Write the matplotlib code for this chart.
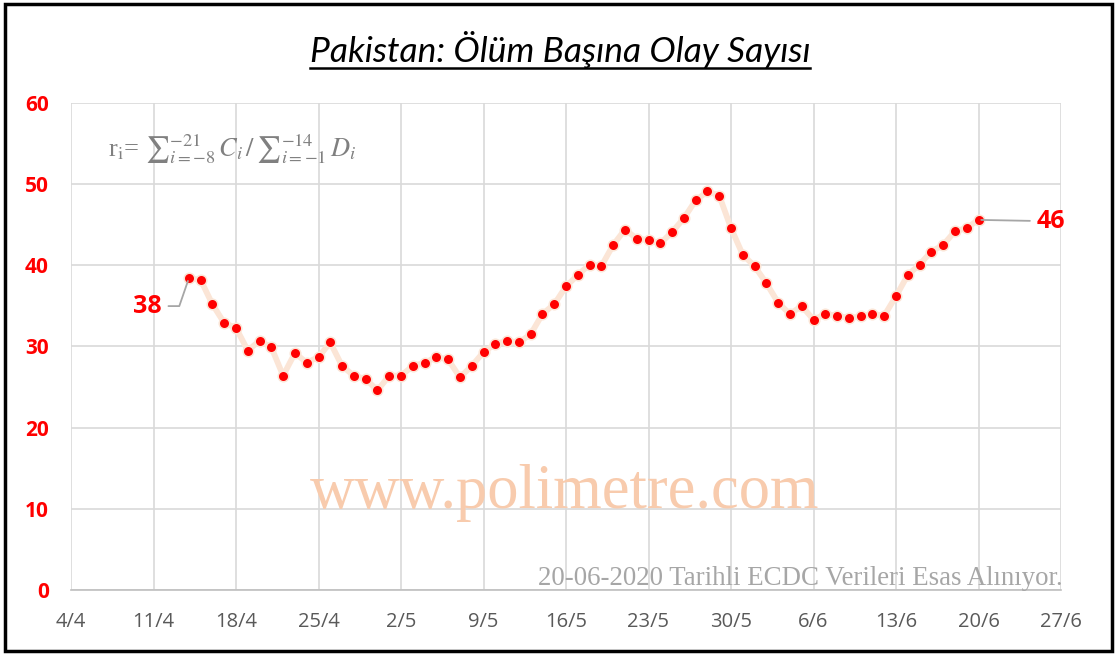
import numpy as np
import matplotlib
matplotlib.use("Agg")
import matplotlib.pyplot as plt
import matplotlib.dates as mdates
from matplotlib.patches import Rectangle

# ---- data ----
start_date = "2020-04-14"
values = [38.4, 38.2, 35.2, 32.9, 32.3, 29.5, 30.7, 29.9, 26.4, 29.2,
          28.0, 28.7, 30.5, 27.6, 26.4, 26.0, 24.6, 26.4, 26.4, 27.6,
          28.0, 28.7, 28.4, 26.2, 27.6, 29.3, 30.3, 30.7, 30.5, 31.5,
          34.0, 35.2, 37.4, 38.8, 40.1, 39.9, 42.5, 44.4, 43.3, 43.1,
          42.7, 44.1, 45.8, 48.0, 49.1, 48.6, 44.6, 41.3, 39.9, 37.8,
          35.4, 34.0, 35.0, 33.3, 34.0, 33.8, 33.5, 33.7, 34.0, 33.8,
          36.2, 38.8, 40.1, 41.7, 42.5, 44.2, 44.6, 45.6]
dates = np.datetime64(start_date) + np.arange(len(values)).astype("timedelta64[D]")
x_start, x_end = np.datetime64("2020-04-04"), np.datetime64("2020-06-27")
y_ticks = [0, 10, 20, 30, 40, 50, 60]
first_label, last_label = "38", "46"
title = "Pakistan: Ölüm Başına Olay Sayısı"
watermark = "www.polimetre.com"
source_note = "20-06-2020 Tarihli ECDC Verileri Esas Alınıyor."
formula = r"r$_\mathrm{i}$= $∑_{i=-8}^{-21}\,C_i\,/\,∑_{i=-1}^{-14}\,D_i$"

W, H = 1116, 654
fig = plt.figure(figsize=(W / 100, H / 100), dpi=100)
fig.patch.set_facecolor("white")
ax = fig.add_axes([71 / W, 1 - 590 / H, (1061 - 71) / W, (590 - 103) / H])

ax.plot(dates, values, color="#FBE5D6", lw=4.2, zorder=2,
        marker="o", markersize=7.6, markerfacecolor="#FF0000",
        markeredgecolor="#FBE5D6", markeredgewidth=1.1)

ax.set_xlim(x_start, x_end)
ax.set_ylim(0, 60)
ax.set_xticks(np.arange(x_start, x_end + np.timedelta64(1, "D"), np.timedelta64(7, "D")))
ax.xaxis.set_major_formatter(mdates.DateFormatter("%-d/%-m"))
ax.set_yticks(y_ticks)
ax.grid(True, color="#D9D9D9", lw=1.2)
ax.set_axisbelow(True)
for s in ["top", "right", "left"]:
    ax.spines[s].set_visible(False)
ax.spines["bottom"].set_color("#BFBFBF")
ax.spines["bottom"].set_linewidth(1.2)
ax.tick_params(axis="both", length=0)
ax.tick_params(axis="x", pad=16, labelsize=14.5, labelcolor="#595959")
ax.tick_params(axis="y", pad=16, labelsize=15, labelcolor="#FF0000")
for lab in ax.get_xticklabels():
    lab.set_fontfamily("Open Sans")
for lab in ax.get_yticklabels():
    lab.set_fontfamily("Open Sans")
    lab.set_fontweight("bold")

# annotations
ax.annotate(first_label, xy=(dates[0], values[0]), xytext=(-30, -20),
            textcoords="offset points", ha="center", va="center",
            fontsize=18, fontweight="bold", color="#FF0000", family="Open Sans",
            arrowprops=dict(arrowstyle="-", color="#A6A6A6", lw=1.3,
                            shrinkA=3, shrinkB=2,
                            connectionstyle="angle,angleA=0,angleB=71,rad=0"))
ax.annotate(last_label, xy=(dates[-1], values[-1]), xytext=(42, -1),
            textcoords="offset points", ha="left", va="center",
            fontsize=18, fontweight="bold", color="#FF0000", family="Open Sans",
            arrowprops=dict(arrowstyle="-", color="#A6A6A6", lw=1.3,
                            shrinkA=3, shrinkB=2))

# texts
fig.text(560 / W, 1 - 50 / H, title, ha="center", va="center", fontsize=25.5,
         style="italic", family="Lato", color="black")
ax.text(0.037, 0.905, formula, transform=ax.transAxes, ha="left", va="center",
        fontsize=19, color="#808080", family="Liberation Serif", math_fontfamily="stix")
fig.text(565 / W, 1 - 508 / H, watermark, ha="center", va="baseline",
         fontsize=45, family="Liberation Serif", color="#F8CBAD")
fig.text(1063 / W, 1 - 585 / H, source_note, ha="right", va="baseline",
         fontsize=19.4, family="Liberation Serif", color="#A6A6A6")

# title underline
fig.canvas.draw()
tt = [t for t in fig.texts if t.get_text() == title][0]
bb = tt.get_window_extent()
fig.add_artist(matplotlib.lines.Line2D([bb.x0 / W, bb.x1 / W], [1 - 68 / H, 1 - 68 / H],
                                       color="black", lw=1.8, transform=fig.transFigure))

# outer frame
fig.add_artist(Rectangle((5 / W, 3 / H), 1107 / W, 647 / H, transform=fig.transFigure,
                         fill=False, edgecolor="black", lw=2.5))

fig.savefig("out.png", dpi=100)
